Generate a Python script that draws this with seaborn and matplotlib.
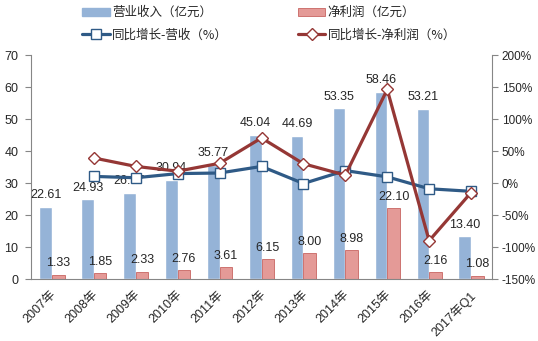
import numpy as np
import pandas as pd
import matplotlib
matplotlib.use("Agg")
import matplotlib.pyplot as plt
import matplotlib.transforms as mtransforms
from matplotlib.patches import Patch
from matplotlib.lines import Line2D
import seaborn as sns

# ---- data ----
years = ["2007年", "2008年", "2009年", "2010年", "2011年", "2012年",
         "2013年", "2014年", "2015年", "2016年", "2017年Q1"]
revenue = [22.61, 24.93, 26.97, 30.94, 35.77, 45.04, 44.69, 53.35, 58.46, 53.21, 13.40]
profit = [1.33, 1.85, 2.33, 2.76, 3.61, 6.15, 8.00, 8.98, 22.10, 2.16, 1.08]
rev_growth = [np.nan, 10.3, 8.2, 14.7, 15.6, 25.9, -0.8, 19.4, 9.6, -9.0, -13.0]
prof_growth = [np.nan, 39.1, 25.9, 18.5, 30.8, 70.4, 30.1, 12.3, 146.1, -90.2, -15.0]

s_rev = "营业收入（亿元）"
s_prof = "净利润（亿元）"
s_rg = "同比增长-营收（%）"
s_pg = "同比增长-净利润（%）"

left_ticks = [0, 10, 20, 30, 40, 50, 60, 70]
right_ticks = [-150, -100, -50, 0, 50, 100, 150, 200]

# ---- style ----
sns.set_style("white")
plt.rcParams["font.family"] = ["Liberation Sans", "Noto Sans CJK SC", "DejaVu Sans"]
plt.rcParams["font.size"] = 8.5

c_rev = "#95B3D7"
c_prof = "#E49A97"
c_prof_edge = "#C0504D"
c_rg = "#2F5A86"
c_pg = "#953735"
axis_col = "#868686"
txt_col = "#262626"

fig = plt.figure(figsize=(5.38, 3.41), dpi=100)
ax = fig.add_axes([31/538, 1-279/341, (492-31)/538, (279-55)/341])

df = pd.DataFrame({"year": years * 2,
                   "value": revenue + profit,
                   "series": [s_rev] * len(years) + [s_prof] * len(years)})
sns.barplot(data=df, x="year", y="value", hue="series", order=years,
            hue_order=[s_rev, s_prof], palette=[c_rev, c_prof],
            width=0.6, ax=ax, legend=False, saturation=1)

for k, (cont, vals) in enumerate(zip(ax.containers, [revenue, profit])):
    if k == 1:
        for p in cont:
            p.set_edgecolor(c_prof_edge)
            p.set_linewidth(0.5)
    ax.bar_label(cont, labels=[f"{v:.2f}" for v in vals], padding=4,
                 fontsize=9, color=txt_col)

ax.set_ylim(0, 70)
ax.set_yticks(left_ticks)
ax.set_xlim(-0.5, len(years) - 0.5)
ax.set_xlabel("")
ax.set_ylabel("")

ax2 = ax.twinx()
xpos = np.arange(len(years))
sns.lineplot(x=xpos, y=rev_growth, ax=ax2, color=c_rg, lw=2.3,
             marker="s", markersize=7, markerfacecolor="white",
             markeredgecolor=c_rg, markeredgewidth=1.0)
sns.lineplot(x=xpos, y=prof_growth, ax=ax2, color=c_pg, lw=2.3,
             marker="D", markersize=6, markerfacecolor="white",
             markeredgecolor=c_pg, markeredgewidth=1.0)
ax2.set_ylim(-150, 200)
ax2.set_yticks(right_ticks)
ax2.set_yticklabels([f"{t}%" for t in right_ticks])
ax2.set_xlim(-0.5, len(years) - 0.5)

for a in (ax, ax2):
    a.spines["top"].set_visible(False)
    for s in a.spines.values():
        s.set_color(axis_col)
        s.set_linewidth(0.8)
    a.tick_params(axis="y", length=4, width=0.8, color=axis_col,
                  labelsize=9, labelcolor=txt_col, direction="out", pad=5)
ax2.tick_params(axis="y", labelsize=8.5, pad=3)
ax.spines["right"].set_visible(False)
ax2.spines["left"].set_visible(False)
ax2.spines["bottom"].set_visible(False)

# x ticks: labels at centers, tick marks at category boundaries
ax.set_xticks(xpos)
ax.set_xticklabels(years, rotation=45, ha="right", va="top",
                   rotation_mode="anchor", fontsize=9, color=txt_col)
ax.tick_params(axis="x", which="major", length=0, pad=7)
ax.set_xticks(np.arange(len(years) + 1) - 0.5, minor=True)
ax.tick_params(axis="x", which="minor", length=4, width=0.8,
               color=axis_col, direction="out")
offset = mtransforms.ScaledTranslation(-2/100, 0, fig.dpi_scale_trans)
for lab in ax.get_xticklabels():
    lab.set_transform(lab.get_transform() + offset)

handles = [Patch(facecolor=c_rev, edgecolor=c_rev),
           Line2D([], [], color=c_rg, lw=2.3, marker="s", markersize=7,
                  markerfacecolor="white", markeredgecolor=c_rg),
           Patch(facecolor=c_prof, edgecolor=c_prof_edge, linewidth=0.5),
           Line2D([], [], color=c_pg, lw=2.3, marker="D", markersize=6,
                  markerfacecolor="white", markeredgecolor=c_pg)]
labels = [s_rev, s_rg, s_prof, s_pg]
fig.legend(handles, labels, ncol=2, loc="upper left",
           bbox_to_anchor=(82/538, 1-6/341), frameon=False,
           borderpad=0, borderaxespad=0,
           prop={"family": ["Noto Sans CJK SC", "DejaVu Sans"], "size": 9},
           handlelength=2.2, handleheight=0.6, handletextpad=0.2,
           columnspacing=5.6, labelspacing=0.75, labelcolor=txt_col)

fig.savefig("out.png", dpi=100)
